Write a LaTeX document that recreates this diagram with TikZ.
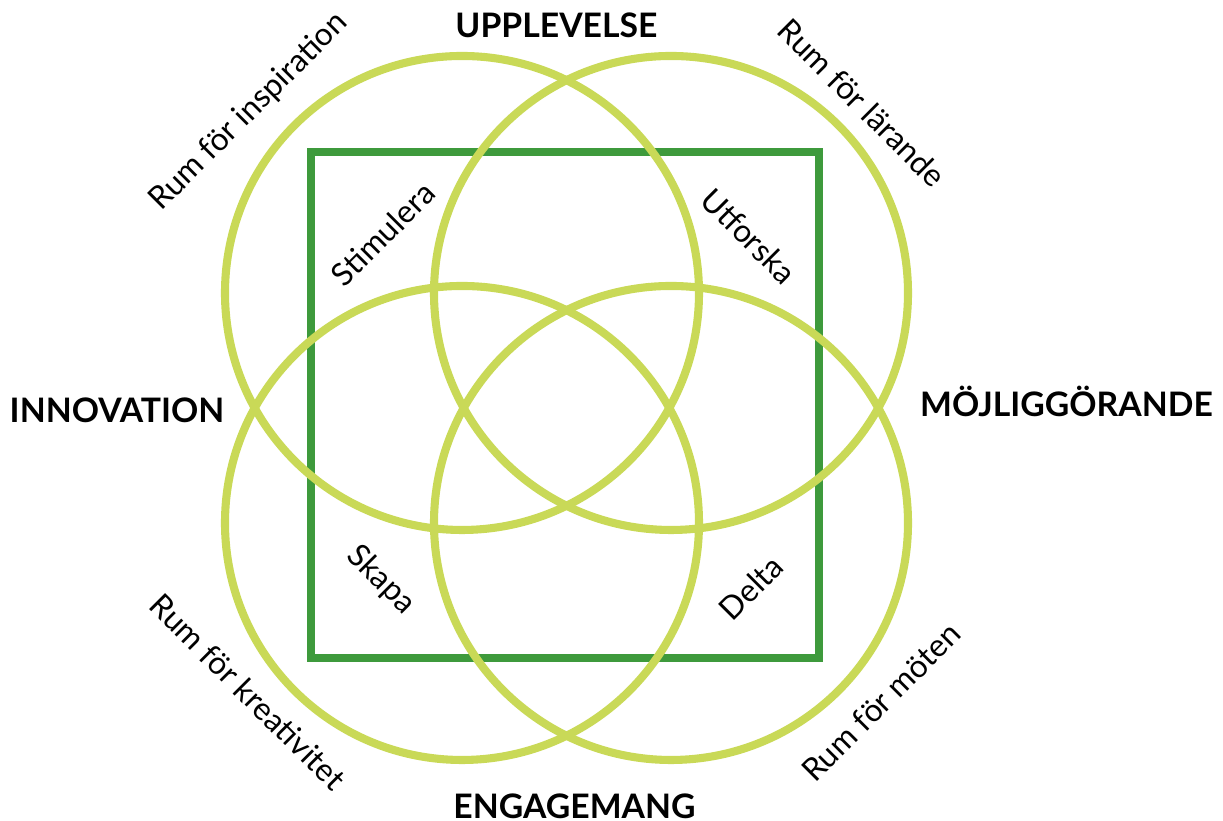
\documentclass[tikz,border=0pt]{standalone}
\usepackage{xcolor}
\usepackage{fontspec}
\setmainfont{Lato}
\usepackage{tikz}

\definecolor{limering}{HTML}{C9D957}
\definecolor{framegreen}{HTML}{3E9A3C}

\begin{document}
\begin{tikzpicture}[
    ring/.style={circle, draw=limering, line width=2.3pt, inner sep=0pt, minimum size=4.74cm},
    frame/.style={rectangle, draw=framegreen, line width=2.5pt, inner sep=0pt, minimum width=5.08cm, minimum height=5.06cm},
    bigword/.style={font=\fontsize{9.6pt}{11pt}\selectfont\bfseries, inner sep=0pt, anchor=base},
    roomword/.style={font=\fontsize{9pt}{11pt}\selectfont, inner sep=0pt},
    verb/.style={font=\fontsize{9pt}{11pt}\selectfont, inner sep=0pt}
]
    \useasboundingbox (0,0) rectangle (12.23,8.21);

    % the square behind the rings
    \node[frame] (sq) at (5.65,4.16) {};

    % four rings
    \node[ring] (tl) at (4.62,5.28) {};
    \node[ring] (tr) at (6.71,5.28) {};
    \node[ring] (bl) at (4.62,2.98) {};
    \node[ring] (br) at (6.71,2.98) {};

    % headings
    \node[bigword] (upp) at (5.565,7.83) {UPPLEVELSE};
    \node[bigword] (inn) at (1.17,3.98) {INNOVATION};
    \node[bigword] (moj) at (10.665,4.04) {MÖJLIGGÖRANDE};
    \node[bigword] (eng) at (5.745,0.02) {ENGAGEMANG};

    % rooms
    \node[roomword, rotate=45] (insp) at (2.49,7.09) {Rum för inspiration};
    \node[roomword, rotate=-45] (lar) at (8.62,7.18) {Rum för lärande};
    \node[roomword, rotate=-45] (krea) at (2.48,1.29) {Rum för kreativitet};
    \node[roomword, rotate=45] (mot) at (8.81,1.19) {Rum för möten};

    % verbs inside the square
    \node[verb, rotate=45] (stim) at (3.83,5.87) {Stimulera};
    \node[verb, rotate=-45] (utf) at (7.49,5.85) {Utforska};
    \node[verb, rotate=-45] (skapa) at (3.81,2.41) {Skapa};
    \node[verb, rotate=45] (delta) at (7.51,2.33) {Delta};
\end{tikzpicture}
\end{document}
